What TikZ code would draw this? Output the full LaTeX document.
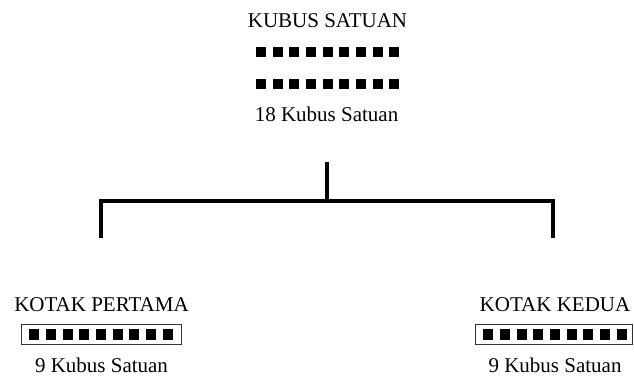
\documentclass[tikz,border=0pt]{standalone}
\usepackage{fontspec}
\setmainfont{Liberation Serif}
\begin{document}
\begin{tikzpicture}[x=1pt,y=-1pt,
  lbl/.style={anchor=base,inner sep=0pt,font=\fontsize{21}{24}\selectfont},
  cube/.style={fill=black,draw=none},
  kotak/.style={draw=black!80,line width=0.9pt,fill=none},
  bracket/.style={line width=4pt,line cap=butt,line join=miter}]
\useasboundingbox (0,0) rectangle (634,376);
% top group
\node[lbl] (title) at (327.5,27.8) {KUBUS SATUAN};
\foreach \i in {0,...,8}{
  \fill[cube] (256+\i*16.67,47.3) rectangle ++(10,10);
  \fill[cube] (256+\i*16.67,79.3) rectangle ++(10,10);
}
\node[lbl] (total) at (326.5,121.2) {18 Kubus Satuan};
% bracket
\coordinate (stemtop) at (326.7,161.5);
\coordinate (junction) at (326.7,201);
\coordinate (legL) at (100.7,238);
\coordinate (legR) at (553.3,238);
\draw[bracket] (stemtop) -- (junction);
\draw[bracket] (legL) |- (junction) -| (legR);
% left box
\node[lbl] (kotak1) at (101.5,311.7) {KOTAK PERTAMA};
\draw[kotak] (21.7,324) rectangle (181,344.3);
\foreach \i in {0,...,8}{
  \fill[cube] (29.3+\i*16.67,329) rectangle ++(10,11);
}
\node[lbl] (isi1) at (101.5,372.7) {9 Kubus Satuan};
% right box
\node[lbl] (kotak2) at (555,311.7) {KOTAK KEDUA};
\draw[kotak] (475.3,324) rectangle (632.8,344.3);
\foreach \i in {0,...,8}{
  \fill[cube] (483.3+\i*16.67,329) rectangle ++(10,11);
}
\node[lbl] (isi2) at (555,372.7) {9 Kubus Satuan};
\end{tikzpicture}
\end{document}
